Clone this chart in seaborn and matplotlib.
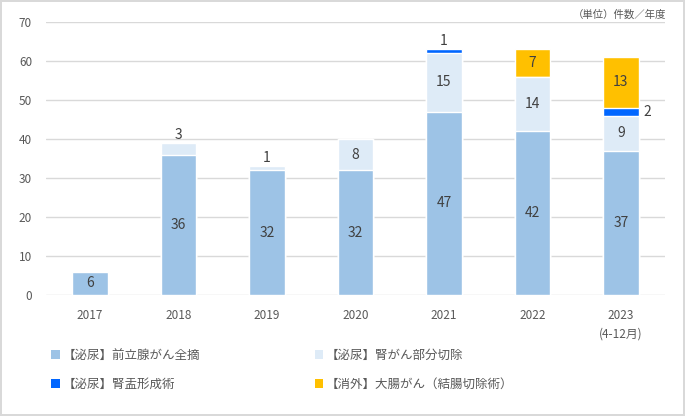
import matplotlib
matplotlib.use('Agg')

import numpy as np
import pandas as pd
import matplotlib.pyplot as plt
import seaborn as sns
from matplotlib.patches import Patch

# Data
years = ['2017', '2018', '2019', '2020', '2021', '2022', '2023\n(4-12月)']
prostate = [6, 36, 32, 32, 47, 42, 37]      # 【泌尿】前立腺がん全摘
kidney_part = [0, 3, 1, 8, 15, 14, 9]       # 【泌尿】腎がん部分切除
pyeloplasty = [0, 0, 0, 0, 1, 0, 2]         # 【泌尿】腎盂形成術
colon = [0, 0, 0, 0, 0, 7, 13]              # 【消外】大腸がん（結腸切除術）

series_names = ['【泌尿】前立腺がん全摘', '【泌尿】腎がん部分切除',
                '【泌尿】腎盂形成術', '【消外】大腸がん（結腸切除術）']
colors = ['#9DC3E6', '#DEEBF7', '#0066FF', '#FFC000']
text_color = '#595959'

sns.set_theme(style='white')
plt.rcParams['font.family'] = ['Noto Sans CJK JP', 'DejaVu Sans']

fig = plt.figure(figsize=(6.85, 4.16), dpi=100)
fig.patch.set_edgecolor('#d9d9d9')
fig.patch.set_linewidth(1.5)
ax = fig.add_axes([0.067, 0.291, 0.904, 0.656])

layers = [prostate, kidney_part, pyeloplasty, colon]
cum = np.cumsum(np.array(layers), axis=0)
df = pd.DataFrame({'year': years})

# stacked bars: draw cumulative totals from top layer down
for i in range(3, -1, -1):
    df['v'] = cum[i]
    sns.barplot(data=df, x='year', y='v', color=colors[i], width=0.4,
                saturation=1, ax=ax, zorder=2, order=years)

# data labels
for j in range(len(years)):
    for i, vals in enumerate(layers):
        v = vals[j]
        if v == 0:
            continue
        top = cum[i][j]
        mid = top - v / 2
        if i == 2 and j == 6:
            ax.text(j + 0.26, mid, str(v), ha='left', va='center',
                    fontsize=10, color='#404040')
        elif v <= 3:
            ax.text(j, top + 0.3, str(v), ha='center', va='bottom',
                    fontsize=10, color='#404040')
        else:
            ax.text(j, mid, str(v), ha='center', va='center',
                    fontsize=10, color='#404040')

ax.set_xlim(-0.5, 6.5)
ax.set_ylim(0, 70)
ax.set_yticks(range(0, 71, 10))
ax.yaxis.grid(True, color='#d9d9d9', linewidth=1, zorder=0)
ax.set_axisbelow(True)
for s in ax.spines.values():
    s.set_visible(False)
ax.set_xlabel('')
ax.set_ylabel('')
ax.tick_params(axis='both', length=0, labelsize=8.5, colors=text_color)
ax.tick_params(axis='x', pad=10)
ax.tick_params(axis='y', pad=10)
for lbl in ax.get_xticklabels():
    lbl.set_linespacing(1.6)

fig.text(0.905, 0.965, '（単位）件数／年度', ha='center', va='center',
         fontsize=7.5, color=text_color)

# legend filled row by row (matplotlib fills columns first)
handles = [Patch(facecolor=c, edgecolor='none') for c in colors]
order = [0, 2, 1, 3]
fig.legend([handles[k] for k in order], [series_names[k] for k in order],
           ncol=2, loc='upper left',
           bbox_to_anchor=(0.058, 0.188), frameon=False, fontsize=9,
           labelcolor=text_color, handlelength=0.7, handleheight=0.7,
           handletextpad=0.2, columnspacing=9.2, labelspacing=1.25)

fig.savefig('out.png', dpi=100, edgecolor=fig.get_edgecolor())
